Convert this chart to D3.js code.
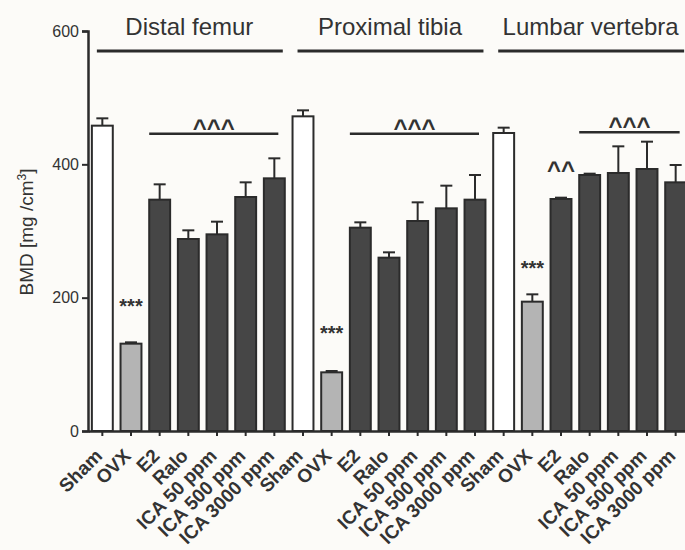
<!DOCTYPE html>
<html>
<head>
<meta charset="utf-8">
<script src="https://cdn.jsdelivr.net/npm/d3@7"></script>
<style>
  html, body { margin: 0; padding: 0; background: #fcfbf8; }
  svg { display: block; font-family: "Liberation Sans", Arial, sans-serif; }
</style>
</head>
<body>
<svg id="chart" width="685" height="550"></svg>
<script>
// Bone mineral density by site and treatment group (mean + SEM)
const sites = ["Distal femur", "Proximal tibia", "Lumbar vertebra"];
const treatments = ["Sham", "OVX", "E2", "Ralo", "ICA 50 ppm", "ICA 500 ppm", "ICA 3000 ppm"];

const femurMean  = [458, 131, 347, 288, 295, 351, 379];
const femurSem   = [11, 2, 23, 13, 19, 22, 30];
const tibiaMean  = [472, 88, 305, 260, 315, 334, 347];
const tibiaSem   = [9, 2, 8, 8, 28, 34, 37];
const lumbarMean = [447, 194, 348, 384, 387, 393, 373];
const lumbarSem  = [8, 11, 2, 2, 40, 41, 26];

const yTicks = [0, 200, 400, 600];

// Significance marks: OVX vs Sham, and treatment vs OVX
const ovxStars = ["***", "***", "***"];
const ovxStarLevel = [190, 150, 247];
const caretLabels = ["^^^", "^^^", "^^^"];
const caretFrom = ["E2", "E2", "Ralo"];
const caretLevel = [446, 446, 448];
const lumbarE2Mark = "^^";
const lumbarE2MarkLevel = 398;

const means = [femurMean, tibiaMean, lumbarMean];
const sems = [femurSem, tibiaSem, lumbarSem];

const rows = [];
sites.forEach((s, si) => treatments.forEach((t, ti) => {
  rows.push({ key: s + "|" + t, site: s, si, t, ti, mean: means[si][ti], sem: sems[si][ti] });
}));

const svg = d3.select("#chart");
const ink = "#2b2b2b";

const x = d3.scaleBand()
  .domain(rows.map(d => d.key))
  .range([88, 690])
  .paddingInner(0.27)
  .paddingOuter(0.135);

const y = d3.scaleLinear().domain([0, 600]).range([431, 31]);

const fillFor = d => d.t === "Sham" ? "#ffffff" : (d.t === "OVX" ? "#b4b4b4" : "#464646");

// Bars
svg.append("g").selectAll("rect")
  .data(rows).join("rect")
  .attr("x", d => x(d.key))
  .attr("y", d => y(d.mean))
  .attr("width", x.bandwidth())
  .attr("height", d => y(0) - y(d.mean))
  .attr("fill", fillFor)
  .attr("stroke", ink)
  .attr("stroke-width", 2);

// Upper error bars
const eb = svg.append("g").attr("stroke", ink).attr("stroke-width", 2);
rows.forEach(d => {
  const cx = x(d.key) + x.bandwidth() / 2;
  eb.append("line").attr("x1", cx).attr("x2", cx).attr("y1", y(d.mean)).attr("y2", y(d.mean + d.sem));
  eb.append("line").attr("x1", cx - 6).attr("x2", cx + 6).attr("y1", y(d.mean + d.sem)).attr("y2", y(d.mean + d.sem));
});

// Y axis
const yAxis = svg.append("g")
  .attr("transform", "translate(88,0)")
  .call(d3.axisLeft(y).tickValues(yTicks).tickSize(6).tickPadding(3));
yAxis.select(".domain").attr("stroke", ink).attr("stroke-width", 2.5);
yAxis.selectAll(".tick line").attr("stroke", ink).attr("stroke-width", 2);
yAxis.selectAll(".tick text").attr("fill", "#333").style("font-size", "16px")
  .style("font-family", "'Liberation Sans', Arial, sans-serif");

// X axis
const xAxis = svg.append("g")
  .attr("transform", "translate(0,431)")
  .call(d3.axisBottom(x).tickSize(5).tickSizeOuter(0).tickFormat(""));
xAxis.select(".domain").attr("stroke", ink).attr("stroke-width", 2.5);
xAxis.selectAll(".tick line").attr("stroke", ink).attr("stroke-width", 2);

// Rotated category labels
svg.append("g").selectAll("text")
  .data(rows).join("text")
  .attr("transform", d => `translate(${x(d.key) + x.bandwidth() / 2 + 1},${457}) rotate(-45)`)
  .attr("text-anchor", "end")
  .attr("fill", "#333")
  .style("font-size", "19px")
  .style("font-weight", "bold")
  .text(d => d.t);

// Y axis title
svg.append("text")
  .attr("transform", "translate(33,232) rotate(-90)")
  .attr("text-anchor", "middle")
  .attr("fill", "#333")
  .style("font-size", "19px")
  .html('BMD [mg /cm<tspan dy="-7" font-size="12px">3</tspan><tspan dy="7">]</tspan>');

// Site headers with spanning lines
sites.forEach((s, si) => {
  const first = x(s + "|" + treatments[0]);
  const last = x(s + "|" + treatments[treatments.length - 1]) + x.bandwidth();
  svg.append("line")
    .attr("x1", first + 5).attr("x2", last - 2)
    .attr("y1", 51).attr("y2", 51)
    .attr("stroke", ink).attr("stroke-width", 3);
  svg.append("text")
    .attr("x", (first + last) / 2 + 1).attr("y", 35)
    .attr("text-anchor", "middle")
    .attr("fill", "#333")
    .style("font-size", "24px")
    .text(s);
});

// OVX vs Sham stars
sites.forEach((s, si) => {
  const k = s + "|OVX";
  svg.append("text")
    .attr("x", x(k) + x.bandwidth() / 2).attr("y", y(ovxStarLevel[si]) + 9)
    .attr("text-anchor", "middle")
    .attr("fill", "#333")
    .style("font-size", "20px").style("font-weight", "bold")
    .text(ovxStars[si]);
});

// Treatment vs OVX brackets
sites.forEach((s, si) => {
  const a = x(s + "|" + caretFrom[si]);
  const b = x(s + "|" + treatments[treatments.length - 1]) + x.bandwidth() / 2 + 4;
  const ly = y(caretLevel[si]);
  svg.append("line")
    .attr("x1", a).attr("x2", b).attr("y1", ly).attr("y2", ly)
    .attr("stroke", ink).attr("stroke-width", 2.5);
  svg.append("text")
    .attr("x", (a + Math.min(b, 685)) / 2).attr("y", ly + 2)
    .attr("text-anchor", "middle")
    .attr("fill", "#333")
    .style("font-size", "24px").style("font-weight", "bold")
    .text(caretLabels[si]);
});

// Lumbar E2 vs OVX mark
{
  const k = sites[2] + "|E2";
  svg.append("text")
    .attr("x", x(k) + x.bandwidth() / 2).attr("y", y(lumbarE2MarkLevel) + 12)
    .attr("text-anchor", "middle")
    .attr("fill", "#333")
    .style("font-size", "24px").style("font-weight", "bold")
    .text(lumbarE2Mark);
}
</script>
</body>
</html>
